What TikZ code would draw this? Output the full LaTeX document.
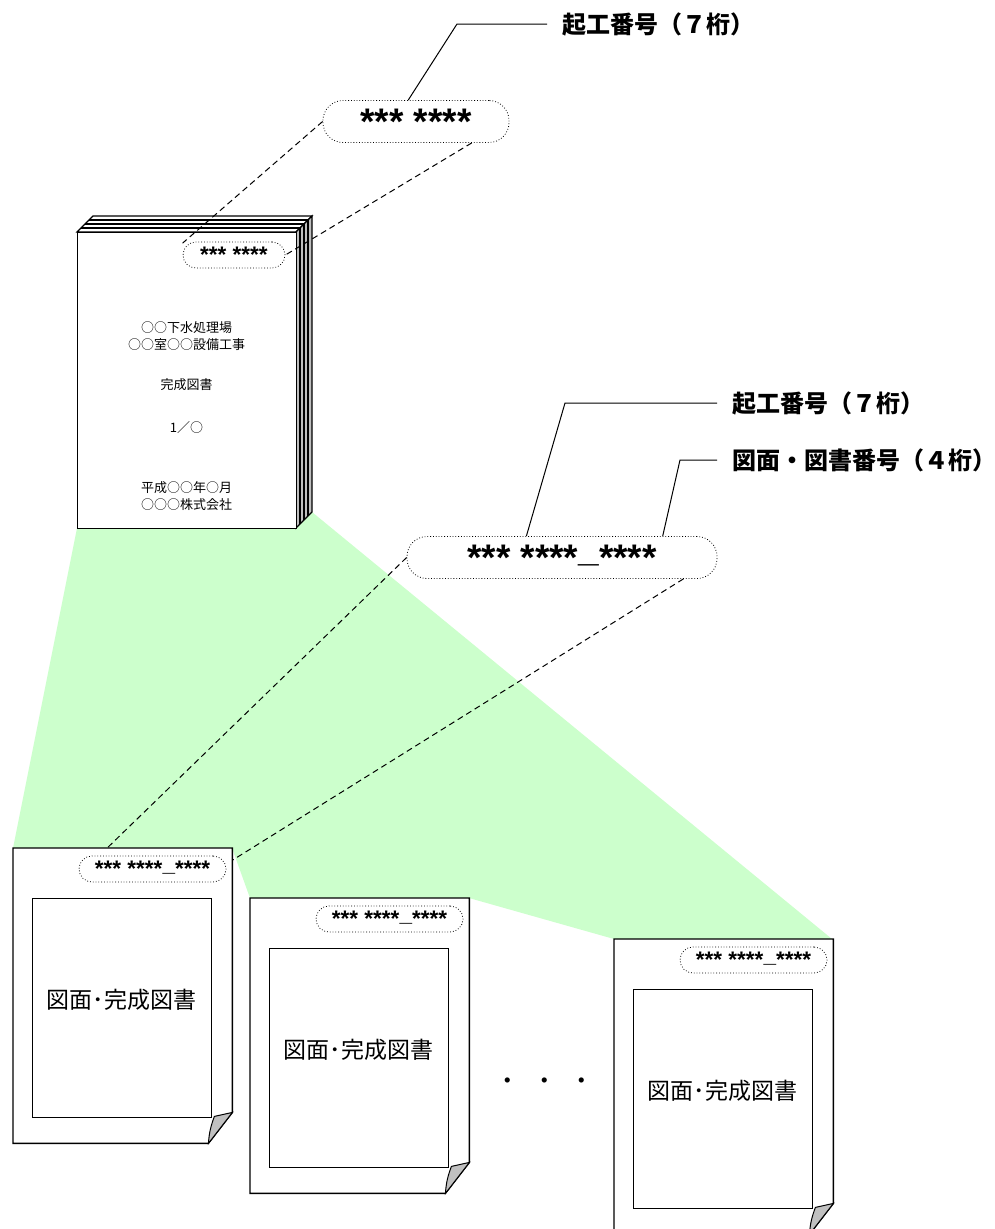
\documentclass[tikz,border=0pt]{standalone}
\usepackage{fontspec}
\setmainfont{Noto Sans CJK JP}
\newfontfamily\codefont{Liberation Sans}
\usetikzlibrary{calc}
\definecolor{spreadgreen}{HTML}{CCFFCC}
\definecolor{foldgray}{HTML}{C0C0C0}
\newcommand\lowstar[1]{\raisebox{-0.24em}{#1}}
\tikzset{
    code/.style={draw, dotted, line width=0.8pt, rounded corners=13pt, inner sep=0pt, minimum height=26pt}, % 番号の枠
    codebig/.style={code, rounded corners=20pt, minimum height=42pt, font=\codefont\bfseries\fontsize{37}{40}\selectfont},
    codesmall/.style={code, font=\codefont\bfseries\fontsize{22.5}{24}\selectfont},
    callout/.style={anchor=west, inner sep=0pt, outer xsep=15pt, font=\bfseries\fontsize{24}{27}\selectfont},
    leader/.style={line width=1pt},
    zoomline/.style={line width=1pt, dash pattern=on 6pt off 4pt},
    sheet/.style={draw, fill=white, line width=1.4pt},
    booktext/.style={font=\fontsize{13}{17}\selectfont, align=center}
}

\begin{document}
\begin{tikzpicture}[x=1pt, y=-1pt]
    \useasboundingbox (0,0) rectangle (995,1229);
    \clip (0,0) rectangle (995,1229);

    % 緑の展開面
    \fill[spreadgreen] (77,528) -- (312,512) -- (832,939) -- (614,939) -- (469,898) -- (250,898) -- (232,848) -- (13,848) -- cycle;

    % 製本（上面と側面）
    \filldraw[fill=white, line width=1.2pt] (77,232) -- (93,216) -- (312,216) -- (296,232) -- cycle;
    \filldraw[fill=gray!50, line width=1.2pt] (296,232) -- (312,216) -- (312,512) -- (296,528) -- cycle;
    \foreach \i in {1,2,3} {\draw[line width=1.1pt] (77+4*\i,232-4*\i) -- (296+4*\i,232-4*\i) -- (296+4*\i,528-4*\i);}
    \node[sheet, minimum width=219pt, minimum height=296pt, anchor=north west, inner sep=0pt] (cover) at (77,232) {};

    \node[codesmall, minimum width=102pt] (covercode) at (234,255) {\lowstar{***} \lowstar{****}};
    \node[booktext] (cvtitle) at (186.5,336) {○○下水処理場\\○○室○○設備工事};
    \node[booktext] (cvkind) at (186.5,385) {完成図書};
    \node[booktext] (cvvol) at (186.5,428) {1／○};
    \node[booktext] (cvdate) at (186.5,496) {平成○○年○月\\○○○株式会社};

    % 拡大した番号
    \node[codebig, minimum width=186pt] (topcode) at (416,121.5) {\lowstar{***} \lowstar{****}};
    \node[codebig, minimum width=310pt] (midcode) at (562,557.5) {\lowstar{***} \lowstar{****}\_\lowstar{****}};

    \node[callout] (toplabel) at (547,24) {起工番号（７桁）};
    \coordinate (topbend) at (457,24);
    \draw[leader] (toplabel.west) -- (topbend) -- (topcode.110);

    \node[callout] (jobno) at (717,403) {起工番号（７桁）};
    \coordinate (jobbend) at (565,403);
    \draw[leader] (jobno.west) -- (jobbend) -- (midcode.149);
    \node[callout] (sheetno) at (717,460) {図面・図書番号（４桁）};
    \coordinate (sheetbend) at (680,460);
    \draw[leader] (sheetno.west) -- (sheetbend) -- (midcode.12);

    % 図面（各ページ）
    \foreach \px/\py/\nm in {13/848/pa, 250/898/pb, 614/939/pc} {
        \node[minimum width=219pt, minimum height=295pt, anchor=north west, inner sep=0pt] (\nm) at (\px,\py) {};
        \filldraw[sheet] (\nm.north west) -- (\nm.north east) -- ($(\nm.south east)+(0,-31)$) -- ($(\nm.south east)+(-24,0)$) -- (\nm.south west) -- cycle;
        \filldraw[fill=foldgray, line width=1pt] ($(\nm.south east)+(-24,0)$) to[bend left=8] ($(\nm.south east)+(-18,-27)$) -- ($(\nm.south east)+(0,-31)$) -- cycle;
        \node[draw, line width=1.2pt, minimum width=179pt, minimum height=219pt, anchor=north west, inner sep=0pt] (\nm-frame) at ($(\nm.north west)+(19,50)$) {};
        \node[font=\fontsize{23}{26}\selectfont] (\nm-title) at ($(\nm.north west)+(108.5,152)$) {図面･完成図書};
        \node[codesmall, minimum width=147pt] (\nm-code) at ($(\nm.north west)+(139.5,21)$) {\lowstar{***} \lowstar{****}\_\lowstar{****}};
    }

    \draw[zoomline] (topcode.west) -- (covercode.167);
    \draw[zoomline] (topcode.-21) -- (covercode.east);
    \draw[zoomline] (midcode.west) -- (pa.96);
    \draw[zoomline] (midcode.-10) -- (pa.51);

    \node[font=\bfseries\fontsize{18.5}{20}\selectfont] (ellipsis) at (545,1083) {・　・　・};
\end{tikzpicture}
\end{document}
